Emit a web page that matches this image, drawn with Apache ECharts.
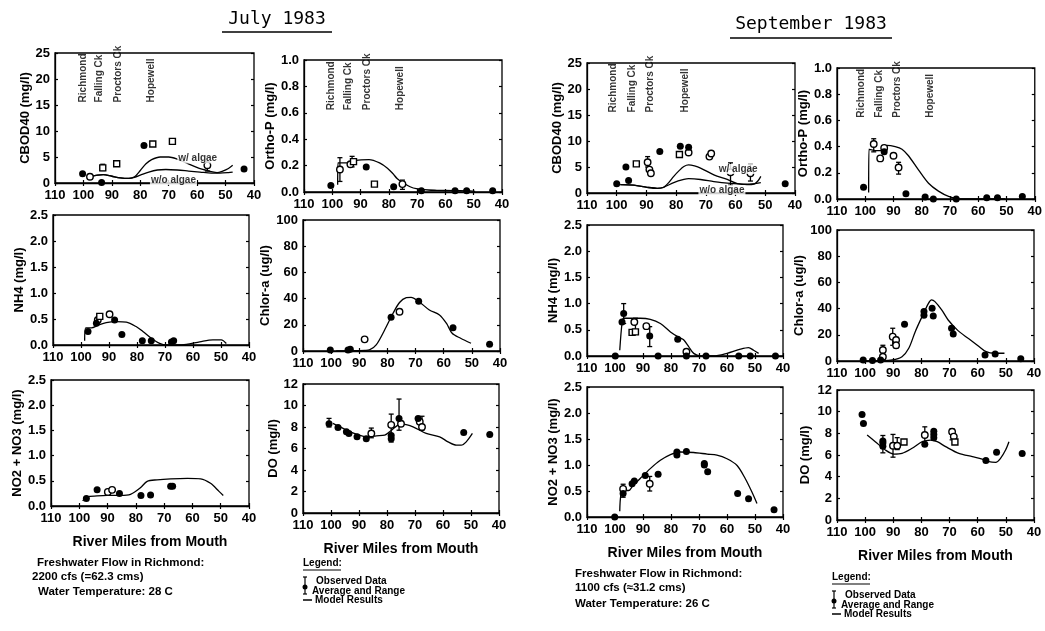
<!DOCTYPE html>
<html><head><meta charset="utf-8">
<script src="https://cdn.jsdelivr.net/npm/echarts@6/dist/echarts.min.js"></script>
<style>html,body{margin:0;padding:0;background:#fff}#c{width:1045px;height:631px}</style>
</head><body><div id="c"></div>
<script>
// ---------------- DATA ----------------
const stationNames = ['Richmond', 'Falling Ck', 'Proctors Ck', 'Hopewell'];
const julStationMiles = [100.2, 94.4, 87.6, 76.1];
const sepStationMiles = [101.3, 94.9, 88.6, 76.9];

// July 1983 - CBOD40
const julCbodFilled = [[100.3,1.8],[93.6,0.1],[78.7,7.2],[43.5,2.7]];
const julCbodOpen = [[97.7,1.2],[56.4,3.4]];
const julCbodSquare = [[93.2,2.9],[88.3,3.7],[75.6,7.5],[68.7,8.0]];
const julCbodRange = [[93.2,2.4,3.6],[56.4,2.3,4.0]];
const julCbodModelAlgae = [[97.7,1.2],[95,1.5],[93,1.6],[90,1.3],[87,1.0],[84,0.9],[82,1.2],[80,2.4],[78,3.7],[76,4.5],[73,5.0],[70,5.0],[67,4.6],[64,3.9],[61,3.2],[58,2.6],[55,2.2],[53,2.0],[51,2.3],[49,2.8],[47.5,3.4]];
const julCbodModelNoAlgae = [[97.7,1.2],[95,1.5],[93,1.6],[90,1.3],[87,1.0],[84,0.9],[82,1.1],[80,1.5],[77,2.1],[74,2.5],[71,2.6],[67,2.5],[63,2.3],[59,2.1],[55,1.9],[52,1.9],[49,2.0],[47.5,2.1]];
const julCbodNotes = [['w/ algae',67,4.7],['w/o algae',76.6,0.6]];

// July 1983 - Ortho-P
const julOpFilled = [[100.5,0.05],[88,0.19],[78.3,0.04],[68.5,0.01],[56.6,0.01],[52.5,0.01],[43.3,0.01]];
const julOpOpen = [[97.3,0.17],[93.6,0.21],[75.2,0.06]];
const julOpSquare = [[85.1,0.06],[92.5,0.23]];
const julOpRange = [[97.3,0.08,0.26],[93,0.19,0.27],[75.2,0.02,0.09]];
const julOpModel = [[98.1,0.055],[98,0.22],[94,0.22],[91.6,0.24],[87,0.245],[83.3,0.22],[80.5,0.18],[78.6,0.14],[77,0.1],[75,0.07],[72.5,0.04],[70.3,0.025],[66,0.015],[63,0.013],[57,0.01],[51.3,0.008],[49.5,0.005]];

// July 1983 - NH4
const julNh4Filled = [[97.5,0.26],[94.5,0.42],[88,0.48],[85.4,0.2],[78.1,0.08],[74.9,0.08],[67.7,0.06],[66.9,0.08]];
const julNh4Open = [[89.8,0.59],[94,0.48]];
const julNh4Square = [[93.3,0.55]];
const julNh4Range = [];
const julNh4Model = [[98.7,0.08],[98.3,0.33],[96.3,0.33],[93.9,0.38],[91,0.43],[87.4,0.45],[83.8,0.44],[80.2,0.35],[77.9,0.26],[74.9,0.13],[71.9,0.03],[69.5,0.0],[66,0.0],[62.4,0.01],[57.6,0.06],[52.9,0.1],[49.9,0.1],[48.1,0.03]];

// July 1983 - Chlor-a
const julChlFilled = [[100.3,0.8],[94,0.8],[93.2,1.3],[78.7,25.7],[68.9,38],[56.7,17.8],[43.7,5.1]];
const julChlOpen = [[88.1,8.9],[75.7,30]];
const julChlSquare = [];
const julChlRange = [];
const julChlModel = [[98.2,0],[92,0.2],[88,0.5],[86.4,0.8],[84,4.6],[81,16],[78,28.8],[75.7,37],[73.3,40.7],[71.6,41],[69.2,38.4],[65.1,31.3],[61.5,27.5],[59,21],[57,13.5],[54,9.7],[50.3,5.9]];

// July 1983 - NO2 + NO3
const julNoxFilled = [[97.5,0.15],[93.7,0.32],[85.8,0.25],[78.2,0.21],[74.8,0.22],[67.7,0.39],[67,0.39]];
const julNoxOpen = [[89.9,0.28],[88.4,0.32]];
const julNoxSquare = [];
const julNoxRange = [];
const julNoxModel = [[98.8,0.1],[97.3,0.18],[93.7,0.2],[90.2,0.21],[85.4,0.21],[81.9,0.23],[78.4,0.36],[76,0.49],[72.5,0.52],[67.7,0.54],[61.8,0.55],[57.1,0.54],[53.6,0.45],[50.6,0.29],[49.1,0.21]];

// July 1983 - DO
const julDoFilled = [[100.7,8.3],[97.5,7.96],[94.5,7.55],[93.6,7.4],[90.7,7.1],[87.4,6.9],[78.5,7.2],[78.5,6.9],[75.7,8.8],[68.9,8.8],[52.6,7.5],[43.3,7.3]];
const julDoOpen = [[85.6,7.4],[78.5,8.2],[75,8.3],[68.3,8.5],[67.5,8.0]];
const julDoSquare = [];
const julDoRange = [[100.7,8.0,8.8],[85.6,7.0,7.9],[78.5,6.6,9.2],[75.7,7.7,10.6],[67.5,7.7,9.0]];
const julDoModel = [[99.3,8.33],[95.7,7.87],[91,7.34],[87.4,7.09],[83.8,7.18],[80.8,7.24],[78.4,7.7],[76.1,8.18],[74.3,8.27],[70.7,8.02],[66,7.4],[61.2,7.09],[58.2,6.62],[55.2,6.31],[53.5,6.31],[51.7,6.62],[49.5,7.4]];

// September 1983 - CBOD40
const sepCbodFilled = [[100,1.8],[96.9,5.0],[96,2.4],[85.5,8.0],[78.6,9.0],[75.8,8.8],[43.3,1.8]];
const sepCbodOpen = [[89.6,5.9],[89,4.5],[88.5,3.8],[75.8,7.8],[68.8,7.0],[68.2,7.6],[61.7,4.0],[55,3.8]];
const sepCbodSquare = [[93.4,5.6],[78.9,7.4]];
const sepCbodRange = [[89.6,5.0,7.0],[61.7,1.5,5.8],[55,2.3,5.5]];
const sepCbodModelAlgae = [[98.8,1.6],[94.3,1.5],[89.8,1.1],[86.4,0.9],[84.2,1.1],[82.5,2.0],[80.8,3.2],[79,4.3],[77.4,5.1],[75.8,5.4],[73.8,5.2],[71.8,4.8],[67.3,3.5],[62.8,2.6],[59.4,1.8],[56,1.6],[53.8,1.7],[52.5,2.3],[51.5,3.2]];
const sepCbodModelNoAlgae = [[98.8,1.6],[94.3,1.5],[89.8,1.1],[86.4,0.9],[84.2,1.1],[80.8,2.0],[77.4,2.6],[75.8,2.75],[71.8,2.6],[67.3,2.2],[62.8,1.9],[56,1.7],[51.5,2.0]];
const sepCbodNotes = [['w/ algae',66,4.6],['w/o algae',72.5,0.6]];

// September 1983 - Ortho-P
const sepOpFilled = [[100.6,0.09],[93.3,0.36],[85.6,0.04],[78.8,0.015],[75.9,0.0],[67.8,0.0],[57,0.01],[53.2,0.01],[44.4,0.02]];
const sepOpOpen = [[97,0.42],[94.7,0.31],[93.3,0.39],[90,0.33],[88.2,0.24]];
const sepOpSquare = [];
const sepOpRange = [[97,0.36,0.46],[88.2,0.19,0.28]];
const sepOpModel = [[98.8,0.05],[98.7,0.38],[96,0.37],[94,0.37],[92.3,0.41],[89.4,0.40],[87,0.38],[84.7,0.33],[81.1,0.22],[77.6,0.12],[74.1,0.06],[70.5,0.02],[65.8,0.0],[56.4,0.0],[50.5,0.0]];

// September 1983 - NH4
const sepNh4Filled = [[99.9,0],[96.9,0.81],[97.5,0.65],[87.6,0.38],[84.6,0],[77.6,0.32],[74.5,0],[67.5,0],[55.8,0],[51.7,0],[42.7,0]];
const sepNh4Open = [[93.1,0.65],[88.8,0.57],[74.5,0.08]];
const sepNh4Square = [[93.9,0.45],[92.7,0.46]];
const sepNh4Range = [[96.9,0.62,1.0],[92.7,0.43,0.72],[87.6,0.18,0.56],[74.5,0.0,0.12]];
const sepNh4Model = [[98.3,0.11],[97.5,0.62],[96.9,0.72],[91,0.72],[87.4,0.7],[83.8,0.62],[80.2,0.46],[77.3,0.36],[75.5,0.31],[73.7,0.18],[71.9,0.05],[69.5,0],[64.8,0],[60,0.05],[55.2,0.13],[52.3,0.16],[50.5,0.11],[48.7,0.05]];

// September 1983 - Chlor-a
const sepChlFilled = [[100.7,0.8],[97.4,0.3],[94.5,0.8],[86,28],[79.1,35],[79.1,37.7],[76.2,40.2],[75.8,34.4],[69.3,25],[68.7,20.6],[57.4,4.6],[53.8,5.3],[44.7,1.8]];
const sepChlOpen = [[93.7,8.4],[93.7,3.3],[90.2,18.6],[89,16],[89,12]];
const sepChlSquare = [];
const sepChlRange = [[93.7,0.5,12],[90.2,12,25],[89,10,18]];
const sepChlModel = [[99.8,0],[95,0.2],[90.4,0.8],[86.9,3.3],[84.5,9.7],[82.2,22.4],[79.9,33.3],[77.5,44],[76.4,46.6],[75.2,45.3],[72.8,39],[70.5,31.3],[67,23.2],[63.4,17.3],[59.9,11.7],[57,7.1],[54,5.9],[50.5,5.9]];

// September 1983 - NO2 + NO3
const sepNoxFilled = [[100.1,0],[97.1,0.45],[93.9,0.64],[93.1,0.69],[89.2,0.8],[84.6,0.82],[77.9,1.25],[77.9,1.19],[74.5,1.26],[68.1,1.03],[68.1,1.0],[66.9,0.87],[56.2,0.45],[52.3,0.35],[43.2,0.14]];
const sepNoxOpen = [[97.1,0.54],[87.6,0.64]];
const sepNoxSquare = [];
const sepNoxRange = [[97.1,0.38,0.63],[87.6,0.5,0.78]];
const sepNoxModel = [[98.3,0.11],[97.9,0.42],[96.9,0.51],[95.1,0.51],[93.9,0.58],[91,0.74],[87.4,0.93],[83.8,1.09],[80.2,1.2],[76.7,1.25],[71.9,1.24],[67.1,1.21],[63.6,1.19],[60,1.12],[56.4,0.99],[53.5,0.74],[51.1,0.48],[49.3,0.26]];

// September 1983 - DO
const sepDoFilled = [[101.1,9.75],[100.6,8.9],[93.7,7.1],[93.7,6.8],[93.7,7.3],[78.8,7.0],[75.6,7.9],[75.6,8.2],[75.6,7.6],[57.1,5.5],[53.3,6.25],[44.2,6.15]];
const sepDoOpen = [[90.1,6.86],[88.6,6.86],[78.8,7.85],[69.1,8.15],[68.5,7.7]];
const sepDoSquare = [[86.2,7.2],[68.1,7.2]];
const sepDoRange = [[93.7,6.2,7.8],[90.1,5.8,7.9],[88.6,6.5,7.6],[78.8,7.0,8.6],[69.1,7.4,8.4]];
const sepDoModel = [[99.3,7.85],[96.4,7.23],[92.8,6.46],[89.8,6.09],[86.9,6.15],[83.3,6.62],[79.7,7.23],[76.8,7.38],[74.4,7.23],[71.4,6.77],[66.7,6.15],[61.9,5.85],[58.4,5.63],[56,5.38],[53.6,5.32],[51.9,5.69],[50.1,6.46],[48.9,7.23]];

// axis ranges / tick labels
const xMin = 40, xMax = 110, xStep = 10;
const yNames = ['CBOD40 (mg/l)','Ortho-P (mg/l)','NH4 (mg/l)','Chlor-a (ug/l)','NO2 + NO3 (mg/l)','DO (mg/l)'];
const yMaxes = [25, 1.0, 2.5, 100, 2.5, 12];
const ySteps = [5, 0.2, 0.5, 20, 0.5, 2];
const yDecimals = [0, 1, 1, 0, 1, 0];

// ---------------- LAYOUT ----------------
const FF = '"Liberation Sans", Arial, sans-serif';
const layout = [
  {left:55, top:53, width:199, height:130},
  {left:304, top:60, width:198, height:132},
  {left:53, top:215, width:196, height:130},
  {left:303, top:220, width:197, height:131},
  {left:51, top:380, width:198, height:126},
  {left:303, top:384, width:196, height:129},
  {left:587, top:63, width:208, height:130},
  {left:837, top:68, width:198, height:131},
  {left:587, top:225, width:196, height:131},
  {left:837, top:230, width:197, height:131},
  {left:587, top:387, width:196, height:130},
  {left:837, top:390, width:197, height:130}
];
const nameGaps = [22,20,18,19,20,19,22,24,20,26,20,25];

const panels = [
  {v:0, model:[julCbodModelAlgae,julCbodModelNoAlgae], filled:julCbodFilled, open:julCbodOpen, square:julCbodSquare, range:julCbodRange, stations:julStationMiles, notes:julCbodNotes},
  {v:1, model:[julOpModel], filled:julOpFilled, open:julOpOpen, square:julOpSquare, range:julOpRange, stations:julStationMiles},
  {v:2, model:[julNh4Model], filled:julNh4Filled, open:julNh4Open, square:julNh4Square, range:julNh4Range},
  {v:3, model:[julChlModel], filled:julChlFilled, open:julChlOpen, square:julChlSquare, range:julChlRange},
  {v:4, model:[julNoxModel], filled:julNoxFilled, open:julNoxOpen, square:julNoxSquare, range:julNoxRange, xName:true},
  {v:5, model:[julDoModel], filled:julDoFilled, open:julDoOpen, square:julDoSquare, range:julDoRange, xName:true},
  {v:0, model:[sepCbodModelAlgae,sepCbodModelNoAlgae], filled:sepCbodFilled, open:sepCbodOpen, square:sepCbodSquare, range:sepCbodRange, stations:sepStationMiles, notes:sepCbodNotes},
  {v:1, model:[sepOpModel], filled:sepOpFilled, open:sepOpOpen, square:sepOpSquare, range:sepOpRange, stations:sepStationMiles},
  {v:2, model:[sepNh4Model], filled:sepNh4Filled, open:sepNh4Open, square:sepNh4Square, range:sepNh4Range},
  {v:3, model:[sepChlModel], filled:sepChlFilled, open:sepChlOpen, square:sepChlSquare, range:sepChlRange},
  {v:4, model:[sepNoxModel], filled:sepNoxFilled, open:sepNoxOpen, square:sepNoxSquare, range:sepNoxRange, xName:true},
  {v:5, model:[sepDoModel], filled:sepDoFilled, open:sepDoOpen, square:sepDoSquare, range:sepDoRange, xName:true}
];

function errRender(params, api) {
  const x = api.value(0), lo = api.value(1), hi = api.value(2);
  const p1 = api.coord([x, lo]), p2 = api.coord([x, hi]);
  const w = 2.5, st = {stroke:'#000', lineWidth:1.3};
  return {type:'group', children:[
    {type:'line', shape:{x1:p1[0], y1:p1[1], x2:p2[0], y2:p2[1]}, style:st},
    {type:'line', shape:{x1:p1[0]-w, y1:p1[1], x2:p1[0]+w, y2:p1[1]}, style:st},
    {type:'line', shape:{x1:p2[0]-w, y1:p2[1], x2:p2[0]+w, y2:p2[1]}, style:st}
  ]};
}

const grid = [], xAxis = [], yAxis = [], series = [];
const lblStyle = {color:'#000', fontSize:13, fontWeight:'bold', fontFamily:FF};
panels.forEach((p, i) => {
  grid.push(Object.assign({show:true, borderColor:'#000', borderWidth:1.3, backgroundColor:'transparent'}, layout[i]));
  const xi = xAxis.length, yi = yAxis.length;
  const v = p.v, dec = yDecimals[v];
  xAxis.push({gridIndex:i, type:'value', min:xMin, max:xMax, interval:xStep, inverse:true,
    axisLine:{show:true, onZero:false, lineStyle:{color:'#000', width:1.3}},
    axisTick:{inside:true, length:3, lineStyle:{color:'#000', width:1.2}},
    axisLabel:Object.assign({margin:6}, lblStyle), splitLine:{show:false},
    name: p.xName ? 'River Miles from Mouth' : '', nameLocation:'middle', nameGap:29,
    nameTextStyle:{color:'#000', fontSize:14, fontWeight:'bold', fontFamily:FF}});
  xAxis.push({gridIndex:i, type:'value', position:'top', min:xMin, max:xMax, interval:xStep, inverse:true,
    axisLine:{show:false}, axisTick:{inside:true, length:3, lineStyle:{color:'#000', width:1.2}},
    axisLabel:{show:false}, splitLine:{show:false}});
  yAxis.push({gridIndex:i, type:'value', min:0, max:yMaxes[v], interval:ySteps[v],
    axisLine:{show:true, onZero:false, lineStyle:{color:'#000', width:1.3}},
    axisTick:{inside:true, length:3, lineStyle:{color:'#000', width:1.2}},
    axisLabel:Object.assign({margin:5, formatter: val => val.toFixed(dec)}, lblStyle), splitLine:{show:false},
    name:yNames[v], nameLocation:'middle', nameGap:nameGaps[i],
    nameTextStyle:{color:'#000', fontSize:13, fontWeight:'bold', fontFamily:FF}});
  yAxis.push({gridIndex:i, type:'value', position:'right', min:0, max:yMaxes[v], interval:ySteps[v],
    axisLine:{show:false}, axisTick:{inside:true, length:3, lineStyle:{color:'#000', width:1.2}},
    axisLabel:{show:false}, splitLine:{show:false}});
  const ax = {xAxisIndex:xi, yAxisIndex:yi, silent:true};
  if (p.range.length) series.push(Object.assign({type:'custom', renderItem:errRender, data:p.range, encode:{x:0, y:[1,2]}, z:3}, ax));
  p.model.forEach(m => series.push(Object.assign({type:'line', data:m, showSymbol:false, smooth:0.3,
    lineStyle:{color:'#000', width:1.3}, z:2}, ax)));
  if (p.open.length) series.push(Object.assign({type:'scatter', data:p.open, symbol:'circle', symbolSize:6.5,
    itemStyle:{color:'#fff', borderColor:'#000', borderWidth:1.4, opacity:1}, z:4}, ax));
  if (p.square.length) series.push(Object.assign({type:'scatter', data:p.square, symbol:'rect', symbolSize:6,
    itemStyle:{color:'#fff', borderColor:'#000', borderWidth:1.4, opacity:1}, z:4}, ax));
  if (p.filled.length) series.push(Object.assign({type:'scatter', data:p.filled, symbol:'circle', symbolSize:7,
    itemStyle:{color:'#000', opacity:1}, z:5}, ax));
  if (p.stations) series.push(Object.assign({type:'scatter', symbolSize:0, z:6,
    data:p.stations.map((m, k) => ({name:stationNames[k], value:[m, yMaxes[v]*0.62]})),
    label:{show:true, position:'inside', rotate:90, align:'left', verticalAlign:'middle', formatter:'{b}',
      color:'#000', fontSize:10, fontWeight:'bold', fontFamily:FF}}, ax));
  if (p.notes) series.push(Object.assign({type:'scatter', symbolSize:0, z:6,
    data:p.notes.map(n => ({name:n[0], value:[n[1], n[2]]})),
    label:{show:true, position:'inside', align:'left', verticalAlign:'middle', formatter:'{b}',
      color:'#000', fontSize:10, fontWeight:'bold', fontFamily:FF, backgroundColor:'#fff', padding:[0,1]}}, ax));
});

// ---------------- TEXT / DECORATION ----------------
const titleFont = '18px "DejaVu Sans Mono", monospace';
const noteFont = 'bold 11.5px ' + FF;
const legFont = 'bold 10px ' + FF;
function txt(x, y, s, font, align) {
  return {type:'text', x:x, y:y, silent:true, style:{text:s, font:font, fill:'#000', textAlign:align||'left', textVerticalAlign:'middle'}};
}
function ln(x1, y1, x2, y2, w) {
  return {type:'line', silent:true, shape:{x1:x1, y1:y1, x2:x2, y2:y2}, style:{stroke:'#000', lineWidth:w||1.3}};
}
function legendBlock(x, y) {
  return [
    txt(x, y, 'Legend:', legFont),
    ln(x, y+7, x+38, y+7, 1.2),
    ln(x+2, y+14, x+2, y+31, 1.2), ln(x, y+14, x+4, y+14, 1.2), ln(x, y+31, x+4, y+31, 1.2),
    {type:'circle', silent:true, shape:{cx:x+2, cy:y+24, r:2.5}, style:{fill:'#000'}},
    txt(x+13, y+18, 'Observed Data', legFont),
    txt(x+9, y+28, 'Average and Range', legFont),
    ln(x, y+37, x+9, y+37, 1.5),
    txt(x+12, y+37, 'Model Results', legFont)
  ];
}
const graphic = [].concat(
  [txt(277, 19, 'July 1983', titleFont, 'center'), ln(222, 32, 332, 32, 1.5),
   txt(811, 24, 'September 1983', titleFont, 'center'), ln(730, 38, 892, 38, 1.5),
   txt(37, 563, 'Freshwater Flow in Richmond:', noteFont), txt(32, 577, '2200 cfs (=62.3 cms)', noteFont),
   txt(38, 592, 'Water Temperature: 28 C', noteFont),
   txt(575, 574, 'Freshwater Flow in Richmond:', noteFont), txt(575, 588, '1100 cfs (\u224831.2 cms)', noteFont),
   txt(575, 604, 'Water Temperature: 26 C', noteFont)],
  legendBlock(303, 563),
  legendBlock(832, 577)
);

const chart = echarts.init(document.getElementById('c'), null, {renderer:'canvas'});
chart.setOption({animation:false, backgroundColor:'#fff', grid, xAxis, yAxis, series, graphic});
</script></body></html>
